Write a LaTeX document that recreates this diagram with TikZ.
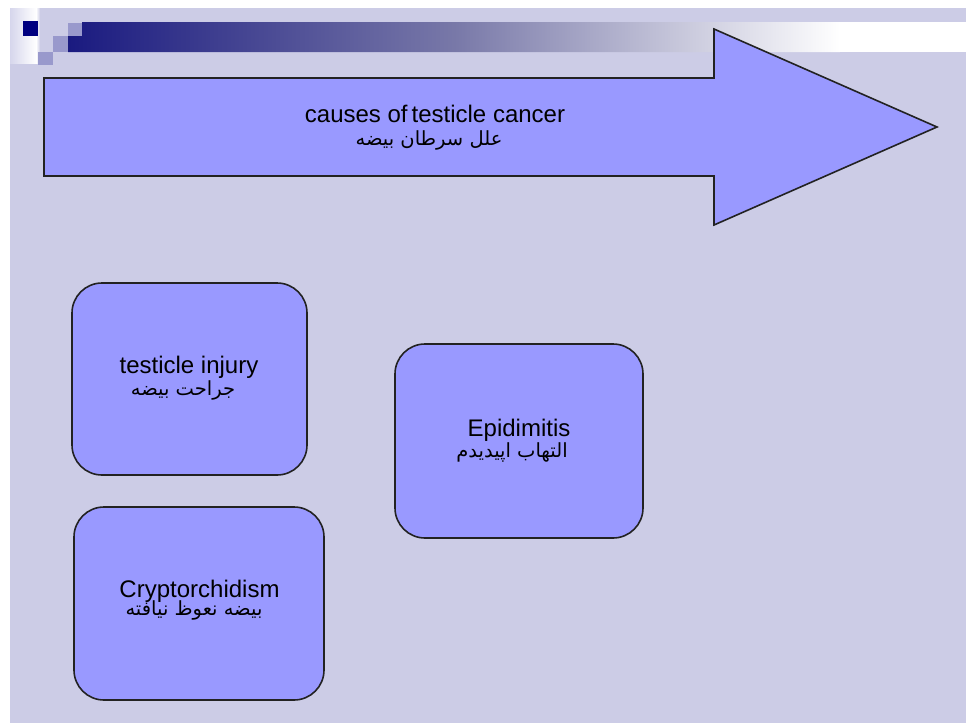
\documentclass[tikz,border=0pt]{standalone}
\usepackage{fontspec}
\setmainfont{Liberation Sans}
\newfontfamily\arabicfont[Script=Arabic]{DejaVu Sans}
\TeXXeTstate=1
\definecolor{bgcol}{HTML}{CCCCE6}
\definecolor{boxfill}{HTML}{9999FF}
\definecolor{navy}{HTML}{000080}
\definecolor{barnavy}{HTML}{1A1A80}
\definecolor{barmid}{HTML}{7878A8}
\definecolor{midsq}{HTML}{9999CC}
\definecolor{lavlight}{HTML}{D6D6EC}
\definecolor{edge}{HTML}{222222}
\pgfdeclarehorizontalshading{barshade}{100bp}{color(0bp)=(barnavy); color(25bp)=(barnavy); color(50bp)=(barmid); color(75bp)=(white); color(100bp)=(white)}
\tikzset{
  shapebox/.style={draw=edge, line width=1.6pt, fill=boxfill, rounded corners=30pt, inner sep=0pt},
  entext/.style={anchor=base, inner sep=0pt, font=\fontsize{24}{28}\selectfont, text=black},
  artext/.style={anchor=base, inner sep=0pt, font=\fontsize{19.5}{22}\arabicfont, text=black},
}
\begin{document}
\begin{tikzpicture}[x=1pt,y=-1pt]
\useasboundingbox (0,0) rectangle (966,723);
\fill[white] (0,0) rectangle (966,723);
\fill[bgcol] (10,8) rectangle (966,723);
% decoration top-left
\shade[left color=lavlight, right color=white] (10,8) rectangle (36,63);
\shade[left color=white, right color=bgcol] (36,8) rectangle (40,63);
\fill[navy] (23,21) rectangle (38,36);
\fill[midsq] (68,23) rectangle (82,36);
\fill[midsq] (53,36) rectangle (68,52);
\fill[midsq] (38,52) rectangle (53,65);
\fill[white] (800,22) rectangle (966,52);
\shade[shading=barshade] (82,22) -- (840,22) -- (840,52) -- (68,52) -- (68,36) -- (82,36) -- cycle;
% big arrow
\draw[draw=edge, line width=1.6pt, fill=boxfill, line join=miter]
  (44,78) -- (714,78) -- (714,29) -- (937,127) -- (714,225) -- (714,176) -- (44,176) -- cycle;
\node[entext] (causes) at (435,122) {causes of\,testicle cancer};
\node[artext] (causesar) at (429,145) {\beginR علل سرطان بیضه\endR};
% boxes
\node[shapebox, minimum width=235pt, minimum height=192pt] (injury) at (189.5,379) {};
\node[shapebox, minimum width=248pt, minimum height=194pt] (epid) at (519,441) {};
\node[shapebox, minimum width=250pt, minimum height=193pt] (crypt) at (199,603.5) {};
\node[entext] (injuryen) at (189,373) {testicle injury};
\node[artext] (injuryar) at (183,395) {\beginR جراحت بیضه\endR};
\node[entext] (epiden) at (519,436) {Epidimitis};
\node[artext] (epidar) at (512,457) {\beginR التهاب اپیدیدم\endR};
\node[entext] (crypten) at (199.5,597) {Cryptorchidism};
\node[artext] (cryptar) at (194,615) {\beginR بیضه نعوظ نیافته\endR};
\end{tikzpicture}
\end{document}
